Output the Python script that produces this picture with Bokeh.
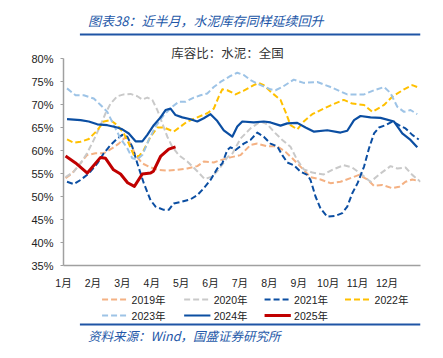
from bokeh.plotting import figure
from bokeh.layouts import column
from bokeh.models import Range1d, FixedTicker, Label, PrintfTickFormatter
from bokeh.core.properties import value
from bokeh.embed import file_html
from bokeh.resources import INLINE

# ---------------- data (x in months since 1 Jan, values in %) ----------------
months = ["1月", "2月", "3月", "4月", "5月", "6月", "7月", "8月", "9月", "10月", "11月", "12月"]
y_ticks = [35, 40, 45, 50, 55, 60, 65, 70, 75, 80]

x2019 = [0.07, 0.29, 0.52, 0.8, 1.09, 1.37, 1.66, 1.88, 2.11, 2.28, 2.45, 2.68, 2.9, 3.19, 3.53,
         3.87, 4.21, 4.55, 4.77, 5.11, 5.34, 5.68, 6.02, 6.36, 6.59, 6.93, 7.27, 7.55, 7.78, 8.06,
         8.4, 8.74, 9.08, 9.42, 9.76, 10.05, 10.33, 10.56, 10.84, 11.18, 11.41, 11.63, 11.86, 12.05]
v2019 = [54.0, 55.0, 56.8, 59.0, 59.4, 59.4, 60.5, 61.5, 62.9, 61.5, 59.0, 57.2, 56.5, 55.8, 55.6,
         55.8, 56.1, 56.6, 57.6, 57.4, 57.9, 58.5, 59.0, 61.2, 61.5, 60.9, 60.9, 59.7, 58.3, 56.5,
         54.2, 53.7, 52.9, 53.2, 54.0, 54.7, 53.7, 52.3, 52.5, 51.8, 52.1, 53.2, 53.7, 53.4]

x2020 = [0.07, 0.35, 0.58, 0.8, 1.03, 1.26, 1.43, 1.6, 1.83, 2.05, 2.28, 2.51, 2.68, 2.85, 3.02,
         3.19, 3.36, 3.53, 3.7, 3.92, 4.21, 4.55, 4.8, 5.05, 5.3, 5.57, 5.75, 6.02, 6.36, 6.7,
         6.93, 7.15, 7.44, 7.72, 7.95, 8.17, 8.46, 8.85, 9.14, 9.53, 9.82, 10.1, 10.44, 10.78,
         11.12, 11.35, 11.63, 11.86, 12.14]
v2020 = [54.2, 55.4, 57.2, 59.4, 62.3, 65.5, 68.1, 70.2, 71.8, 72.2, 72.3, 71.8, 71.1, 71.5, 71.0,
         68.8, 65.9, 63.0, 60.8, 59.0, 57.6, 55.5, 53.8, 54.3, 56.0, 58.5, 59.4, 62.6, 64.8, 66.3,
         65.7, 64.1, 62.3, 60.8, 57.9, 55.9, 55.2, 54.8, 55.8, 56.8, 56.3, 55.0, 53.2, 55.0,
         56.6, 56.1, 56.3, 54.7, 53.2]

x2021 = [0.12, 0.35, 0.58, 0.86, 1.15, 1.37, 1.6, 1.83, 2.0, 2.17, 2.34, 2.51, 2.73, 2.96, 3.13,
         3.41, 3.58, 3.75, 4.04, 4.32, 4.55, 4.77, 5.0, 5.23, 5.4, 5.57, 5.68, 5.85, 6.13, 6.36,
         6.59, 6.81, 7.04, 7.27, 7.44, 7.61, 7.83, 8.06, 8.29, 8.4, 8.57, 8.74, 8.97, 9.25, 9.48,
         9.65, 9.82, 10.0, 10.22, 10.39, 10.56, 10.73, 10.95, 11.18, 11.41, 11.63, 11.86, 12.08]
v2021 = [53.2, 52.7, 53.6, 55.0, 57.2, 59.4, 61.2, 62.6, 63.4, 63.0, 60.8, 57.2, 52.9, 49.2, 47.8,
         47.1, 47.1, 48.5, 48.9, 49.4, 50.3, 51.8, 53.6, 56.1, 57.2, 60.1, 60.7, 60.1, 61.5, 62.3,
         63.9, 63.0, 61.5, 60.9, 59.0, 57.4, 56.8, 55.4, 54.7, 53.6, 50.0, 47.4, 45.6, 45.8, 46.4,
         47.8, 50.7, 52.9, 56.5, 60.5, 63.7, 65.0, 65.5, 66.3, 65.5, 64.8, 63.4, 62.4]

x2022 = [0.12, 0.35, 0.58, 0.86, 1.15, 1.37, 1.6, 1.83, 2.05, 2.22, 2.39, 2.56, 2.73, 2.96, 3.19,
         3.41, 3.64, 3.75, 3.98, 4.21, 4.55, 4.89, 5.11, 5.28, 5.4, 5.57, 5.85, 6.13, 6.47, 6.64,
         6.81, 7.04, 7.38, 7.55, 7.72, 7.95, 8.17, 8.46, 8.85, 9.19, 9.53, 9.82, 10.22, 10.5,
         10.9, 11.18, 11.58, 11.86, 12.03]
v2022 = [62.4, 61.7, 61.9, 62.5, 64.4, 66.3, 66.6, 65.5, 63.7, 61.5, 59.0, 58.7, 60.1, 63.0, 65.0,
         65.0, 64.4, 64.1, 65.2, 66.3, 67.2, 68.1, 69.1, 71.7, 73.3, 73.1, 72.2, 73.0, 74.2, 74.7,
         74.2, 72.8, 71.0, 68.4, 65.5, 64.6, 66.3, 67.9, 69.1, 70.1, 71.0, 70.2, 69.9, 68.4,
         69.9, 71.7, 73.3, 74.2, 73.8]

x2023 = [0.12, 0.41, 0.69, 1.03, 1.26, 1.49, 1.71, 1.94, 2.17, 2.34, 2.51, 2.68, 2.9, 3.13, 3.41,
         3.7, 3.92, 4.15, 4.43, 4.66, 4.89, 5.11, 5.34, 5.68, 5.91, 6.13, 6.36, 6.7, 7.04, 7.21,
         7.44, 7.83, 8.17, 8.63, 9.08, 9.65, 10.22, 10.56, 10.9, 11.12, 11.35, 11.58, 11.8, 12.03]
v2023 = [73.5, 72.0, 72.0, 71.3, 69.9, 68.4, 65.5, 62.6, 60.5, 58.3, 58.1, 59.0, 62.3, 65.2, 67.7,
         69.5, 70.6, 70.6, 71.5, 72.0, 72.4, 73.8, 74.9, 76.2, 76.9, 76.4, 75.3, 74.2, 73.3, 73.1,
         73.8, 75.4, 74.7, 74.9, 73.8, 72.2, 72.2, 73.1, 73.8, 72.5, 69.5, 68.4, 68.8, 67.9]

x2024 = [0.12, 0.58, 0.86, 1.15, 1.49, 1.83, 2.0, 2.22, 2.45, 2.68, 2.85, 3.07, 3.3, 3.47, 3.64,
         3.81, 4.04, 4.32, 4.55, 4.77, 5.0, 5.23, 5.45, 5.74, 5.91, 6.08, 6.47, 6.81, 7.04, 7.38,
         7.61, 7.95, 8.23, 8.52, 8.97, 9.42, 9.65, 9.88, 10.1, 10.44, 10.78, 11.24, 11.52, 11.8, 12.03]
v2024 = [66.8, 66.6, 66.3, 65.7, 65.5, 65.0, 64.6, 63.7, 62.0, 62.0, 63.4, 65.5, 67.2, 68.8, 69.1,
         67.7, 67.2, 66.8, 66.3, 67.0, 67.9, 66.4, 64.4, 63.0, 65.2, 66.3, 66.1, 66.3, 66.1, 65.4,
         65.9, 66.0, 65.0, 64.1, 64.4, 63.9, 64.3, 66.6, 67.5, 67.2, 67.1, 66.3, 63.7, 62.3, 60.7]

x2025 = [0.07, 0.41, 0.81, 1.26, 1.43, 1.7, 1.94, 2.18, 2.41, 2.68, 2.96, 3.06, 3.3, 3.58, 3.81]
v2025 = [58.8, 57.3, 55.1, 58.5, 58.3, 55.8, 54.9, 53.0, 52.2, 54.9, 55.1, 55.5, 58.7, 60.3, 60.8]

series_names = ["2019年", "2020年", "2021年", "2022年", "2023年", "2024年", "2025年"]
series_x = [x2019, x2020, x2021, x2022, x2023, x2024, x2025]
series_v = [v2019, v2020, v2021, v2022, v2023, v2024, v2025]

title_text = "图表38：近半月，水泥库存同样延续回升"
subtitle_text = "库容比：水泥：全国"
source_text = "资料来源：Wind，国盛证券研究所"

# ---------------- styles ----------------
colors = ["#F4B183", "#C9C9C9", "#0B4EA2", "#FFC000", "#9DC3E6", "#0B4EA2", "#C00000"]
dashes = ["6 3", "6 3", "6 3", "6 3", "6 3", "solid", "solid"]
widths = [2, 2, 2, 2, 2, 2.2, 3]

FONT = "Liberation Sans, Noto Sans CJK SC"
CJK = "Noto Sans CJK SC"
BLUE = "#2458A8"
RULE = "#1F55A5"
W = 435

def deco_fig(h):
    f = figure(width=W, height=h, output_backend="svg", toolbar_location=None,
               x_range=Range1d(0, W), y_range=Range1d(h, 0),
               x_axis_location=None, y_axis_location=None,
               min_border_left=0, min_border_right=0, min_border_top=0, min_border_bottom=0)
    f.outline_line_color = None
    f.grid.visible = False
    return f

# ---------------- top strip: title and rule (page y 0..40) ----------------
TOP_H = 40
top = deco_fig(TOP_H)
top.text(x=[30], y=[20], text=[title_text], text_font=value(CJK), text_font_size="13px",
         text_font_style="italic", text_color=BLUE, text_baseline="middle", text_align="left")
top.segment(x0=[20], y0=[34], x1=[435], y1=[34], line_color=RULE, line_width=2)

# ---------------- main chart (page y 40..292) ----------------
MAIN_H = 252
FRAME_TOP = 58 - TOP_H      # 80% gridline position inside this figure
FRAME_BOT = 265 - TOP_H     # 35% axis position inside this figure
PX_PER_PCT = 207.0 / 45.0
XMAX = 12.14
YMAX = 80 + FRAME_TOP / PX_PER_PCT

p = figure(width=W, height=MAIN_H, output_backend="svg", toolbar_location=None,
           x_range=Range1d(0, XMAX), y_range=Range1d(35, YMAX),
           min_border_left=63, min_border_right=15, min_border_top=0,
           min_border_bottom=MAIN_H - FRAME_BOT)
p.outline_line_color = None
p.grid.visible = False
p.background_fill_color = "white"
p.border_fill_color = "white"

for xs, vs, c, d, w in zip(series_x, series_v, colors, dashes, widths):
    p.line(xs, vs, line_color=c, line_dash=d, line_width=w, line_join="round")

p.yaxis.ticker = FixedTicker(ticks=y_ticks)
p.yaxis.bounds = (35, 80)
p.yaxis.formatter = PrintfTickFormatter(format="%d%%")
p.xaxis.ticker = FixedTicker(ticks=list(range(12)))
p.xaxis.major_label_overrides = {i: m for i, m in enumerate(months)}
for ax in (p.xaxis[0], p.yaxis[0]):
    ax.axis_line_color = "#A0A0A0"
    ax.axis_line_width = 1.5
    ax.major_tick_line_color = "#A0A0A0"
    ax.minor_tick_line_color = None
    ax.major_label_text_font = FONT
    ax.major_label_text_color = "#222222"
p.yaxis.major_tick_in = 0
p.yaxis.major_tick_out = 3
p.yaxis.major_label_standoff = 7
p.yaxis.major_label_text_font_size = "11px"
p.xaxis.major_tick_in = 0
p.xaxis.major_tick_out = 0
p.xaxis.major_label_standoff = 11
p.xaxis.major_label_text_font_size = "10.5px"

# chart subtitle, inside the frame above the 80% level
p.add_layout(Label(x=(227 - 63) * XMAX / 357.0, y=80 + 6 / PX_PER_PCT, text=subtitle_text,
                   text_font=CJK, text_font_size="12.5px", text_color="#333333",
                   text_align="center", text_baseline="middle"))

# ---------------- bottom strip: legend, rule, source (page y 292..350) ----------------
BOT_H = 58
OFF = TOP_H + MAIN_H
bot = deco_fig(BOT_H)
cols = [47, 147, 245, 343]
rows = [299 - OFF, 315 - OFF]
for i, name in enumerate(series_names):
    r, c = divmod(i, 4)
    x0 = cols[c]
    py = rows[r]
    bot.segment(x0=[x0], y0=[py], x1=[x0 + 32], y1=[py], line_color=colors[i],
                line_width=3 if i == 6 else 2, line_dash=dashes[i])
    bot.text(x=[x0 + 36], y=[py], text=[name], text_font=value(FONT), text_font_size="10.5px",
             text_color="#222222", text_baseline="middle", text_align="left")
bot.segment(x0=[20], y0=[324 - OFF], x1=[435], y1=[324 - OFF], line_color=RULE, line_width=2)
bot.text(x=[30], y=[335 - OFF], text=[source_text], text_font=value(CJK), text_font_size="12.5px",
         text_font_style="italic", text_color=BLUE, text_baseline="middle", text_align="left")

layout = column(top, p, bot, spacing=0)
open("out.html", "w").write(file_html(layout, INLINE))
